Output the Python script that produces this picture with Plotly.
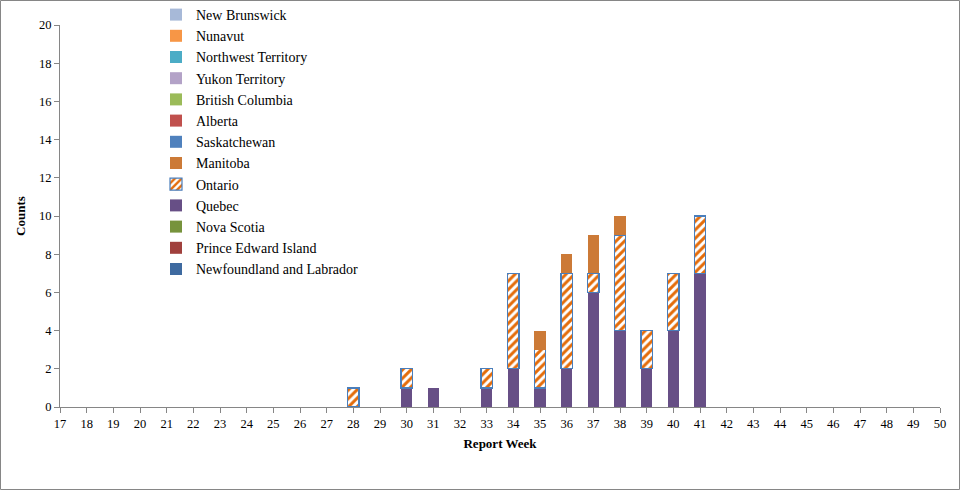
import plotly.graph_objects as go

weeks = list(range(17, 51))
provinces = ["Newfoundland and Labrador", "Prince Edward Island", "Nova Scotia", "Quebec",
             "Ontario", "Manitoba", "Saskatchewan", "Alberta", "British Columbia",
             "Yukon Territory", "Northwest Territory", "Nunavut", "New Brunswick"]
colors = {
    "Newfoundland and Labrador": "#3E6AA0",
    "Prince Edward Island": "#A0403D",
    "Nova Scotia": "#77933C",
    "Quebec": "#674F86",
    "Ontario": "#E46C0A",
    "Manitoba": "#CC7A37",
    "Saskatchewan": "#4F81BD",
    "Alberta": "#C0504D",
    "British Columbia": "#9BBB59",
    "Yukon Territory": "#B3A2C7",
    "Northwest Territory": "#4BACC6",
    "Nunavut": "#F79646",
    "New Brunswick": "#A7B9D8",
}
quebec = {30: 1, 31: 1, 33: 1, 34: 2, 35: 1, 36: 2, 37: 6, 38: 4, 39: 2, 40: 4, 41: 7}
ontario = {28: 1, 30: 1, 33: 1, 34: 5, 35: 2, 36: 5, 37: 1, 38: 5, 39: 2, 40: 3, 41: 3}
manitoba = {35: 1, 36: 1, 37: 2, 38: 1}
data = {"Quebec": quebec, "Ontario": ontario, "Manitoba": manitoba}

font_family = "Liberation Serif"
fig = go.Figure()
for p in provinces:
    d = data.get(p, {})
    x = [w for w in weeks if d.get(w, 0) > 0]
    y = [d[w] for w in x]
    if p == "Ontario":
        marker = dict(color="white",
                      pattern=dict(shape="/", fgcolor="#E46C0A", bgcolor="white", size=6,
                                   solidity=0.5, fgopacity=1),
                      line=dict(color="#4A7EBB", width=1.2))
    else:
        marker = dict(color=colors[p], line=dict(width=0))
    fig.add_trace(go.Bar(x=x if x else [None], y=y if y else [None], name=p, marker=marker, width=0.42))

W, H = 961, 491
l, r, t, b = 60, 21, 25, 84
pw, ph = W - l - r, H - t - b

fig.update_layout(
    width=W, height=H, barmode="stack",
    margin=dict(l=l, r=r, t=t, b=b, autoexpand=False),
    paper_bgcolor="white", plot_bgcolor="white",
    font=dict(family=font_family, size=12, color="black"),
    showlegend=True,
    legend=dict(traceorder="reversed", x=(156 - l) / pw, y=(H - b - 285) / ph, xanchor="left", yanchor="bottom",
                bgcolor="rgba(0,0,0,0)", font=dict(size=14, family=font_family), itemwidth=30,
                tracegroupgap=0),
    xaxis=dict(range=[17, 50], tickvals=weeks, ticktext=[str(w) for w in weeks],
               showline=True, linecolor="#868686", linewidth=1, ticks="outside", ticklen=5,
               tickcolor="#868686", showgrid=False, zeroline=False,
               title=dict(text="<b>Report Week</b>", font=dict(size=13, family=font_family), standoff=8),
               tickfont=dict(size=12.5, family=font_family)),
    yaxis=dict(range=[0, 20], dtick=2, showline=True, linecolor="#868686", linewidth=1,
               ticks="outside", ticklen=5, tickcolor="#868686", showgrid=False, zeroline=False,
               title=dict(text="<b>Counts</b>", font=dict(size=13, family=font_family), standoff=10),
               tickfont=dict(size=12.5, family=font_family)),
    shapes=[dict(type="rect", xref="paper", yref="paper",
                 x0=(0.5 - l) / pw, x1=(W - 1.5 - l) / pw,
                 y0=(H - b - (H - 1.5)) / ph, y1=(H - b - 0.5) / ph,
                 line=dict(color="#868686", width=1), fillcolor="rgba(0,0,0,0)", layer="below")],
)
fig.write_html("out.html", config={"displayModeBar": False},
               post_script="document.body.style.margin='0';document.body.style.padding='0';")
